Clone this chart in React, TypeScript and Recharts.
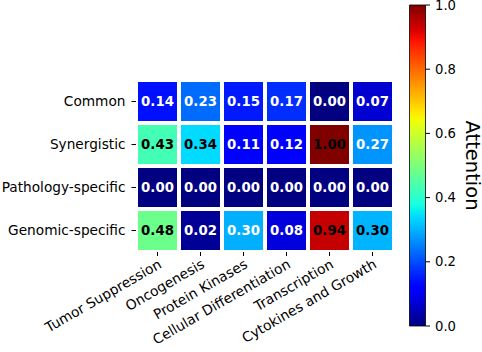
import { ScatterChart, Scatter, XAxis, YAxis, BarChart, Bar } from 'recharts'

const RIJEN = ['Common', 'Synergistic', 'Pathology-specific', 'Genomic-specific']
const KOLOMMEN = [
  'Tumor Suppression',
  'Oncogenesis',
  'Protein Kinases',
  'Cellular Differentiation',
  'Transcription',
  'Cytokines and Growth',
]
const COMMON = [0.14, 0.23, 0.15, 0.17, 0.0, 0.07]
const SYNERGISTIC = [0.43, 0.34, 0.11, 0.12, 1.0, 0.27]
const PATHOLOGY = [0.0, 0.0, 0.0, 0.0, 0.0, 0.0]
const GENOMIC = [0.48, 0.02, 0.298, 0.08, 0.94, 0.302]
const CB_TICKS = [0, 0.2, 0.4, 0.6, 0.8, 1.0]

const FONT = '"DejaVu Sans", sans-serif'
const W = 482
const H = 352
const MARGIN = { top: 80, right: 88, bottom: 0, left: 0 }
const Y_AXIS_W = 136
const X_AXIS_H = 100
const PLOT_W = W - MARGIN.right - Y_AXIS_W
const PLOT_H = H - MARGIN.top - X_AXIS_H
const CEL_W = PLOT_W / KOLOMMEN.length
const CEL_H = PLOT_H / RIJEN.length
const GAP = 4

// matplotlib 'jet' colormap
type Pt = [number, number]
const JET_R: Pt[] = [[0, 0], [0.35, 0], [0.66, 1], [0.89, 1], [1, 0.5]]
const JET_G: Pt[] = [[0, 0], [0.125, 0], [0.375, 1], [0.64, 1], [0.91, 0], [1, 0]]
const JET_B: Pt[] = [[0, 0.5], [0.11, 1], [0.34, 1], [0.65, 0], [1, 0]]

function lin(pts: Pt[], t: number): number {
  for (let i = 1; i < pts.length; i++) {
    if (t <= pts[i][0]) {
      const [x0, y0] = pts[i - 1]
      const [x1, y1] = pts[i]
      return y0 + ((t - x0) / (x1 - x0)) * (y1 - y0)
    }
  }
  return pts[pts.length - 1][1]
}

function jet(t: number): string {
  const c = (v: number) => Math.round(Math.max(0, Math.min(1, v)) * 255)
  return `rgb(${c(lin(JET_R, t))},${c(lin(JET_G, t))},${c(lin(JET_B, t))})`
}

const matrix = [COMMON, SYNERGISTIC, PATHOLOGY, GENOMIC]
const cellen = matrix.flatMap((rij, ri) => rij.map((v, ci) => ({ x: ci, y: ri, v })))

// offsets oplopend, bovenaan (offset 0) hoort waarde 1
const gradStops = Array.from({ length: 51 }, (_, i) => i / 50)

function Cel(props: any) {
  const { cx, cy, payload } = props
  const v = payload.v as number
  return (
    <g>
      <rect
        x={cx - CEL_W / 2 + GAP / 2}
        y={cy - CEL_H / 2 + GAP / 2}
        width={CEL_W - GAP}
        height={CEL_H - GAP}
        fill={jet(v)}
      />
      <text
        x={cx}
        y={cy}
        textAnchor="middle"
        dominantBaseline="central"
        fontFamily={FONT}
        fontWeight="bold"
        fontSize={13.3}
        fill={v > 0.3 ? '#000' : '#fff'}
      >
        {v.toFixed(2)}
      </text>
    </g>
  )
}

function XTick(props: any) {
  const { x, y, payload } = props
  return (
    <g transform={`translate(${x},${y})`}>
      <text
        x={5}
        y={9}
        textAnchor="end"
        transform="rotate(-30 5 9)"
        fontFamily={FONT}
        fontSize={13.8}
        fill="#000"
      >
        {KOLOMMEN[payload.value]}
      </text>
    </g>
  )
}

export default function App() {
  return (
    <div style={{ position: 'absolute', left: 0, top: 0, width: W, height: H, background: '#fff' }}>
      <div style={{ position: 'absolute', left: 0, top: 0 }}>
        <ScatterChart width={W} height={H} margin={MARGIN}>
          <XAxis
            type="number"
            dataKey="x"
            domain={[-0.5, KOLOMMEN.length - 0.5]}
            ticks={KOLOMMEN.map((_, i) => i)}
            interval={0}
            axisLine={false}
            tickLine={{ stroke: '#000' }}
            tickSize={4}
            height={X_AXIS_H}
            tick={<XTick />}
          />
          <YAxis
            type="number"
            dataKey="y"
            domain={[-0.5, RIJEN.length - 0.5]}
            ticks={RIJEN.map((_, i) => i)}
            interval={0}
            reversed
            width={Y_AXIS_W}
            axisLine={false}
            tickLine={{ stroke: '#000' }}
            tickSize={4.5}
            tickMargin={6}
            tickFormatter={(i) => RIJEN[i as number]}
            tick={{ fill: '#000', fontSize: 13.7, fontFamily: FONT }}
          />
          <Scatter data={cellen} shape={<Cel />} isAnimationActive={false} />
        </ScatterChart>
      </div>
      <div style={{ position: 'absolute', left: 0, top: 0 }}>
        <BarChart
          width={W}
          height={H}
          data={[{ naam: 'cb', v: 1 }]}
          margin={{ top: 5, bottom: 26, left: 409.5, right: 0 }}
          barCategoryGap={0}
        >
          <defs>
            <linearGradient id="jetGrad" x1="0" y1="0" x2="0" y2="1">
              {gradStops.map((o) => (
                <stop key={o} offset={o} stopColor={jet(1 - o)} />
              ))}
            </linearGradient>
          </defs>
          <XAxis dataKey="naam" hide />
          <YAxis
            orientation="right"
            domain={[0, 1]}
            ticks={CB_TICKS}
            interval={0}
            width={56.5}
            axisLine={false}
            tickLine={{ stroke: '#000' }}
            tickSize={4.5}
            tickMargin={5}
            tickFormatter={(v) => (v as number).toFixed(1)}
            tick={{ fill: '#000', fontSize: 13.2, fontFamily: FONT }}
            label={{
              content: ({ viewBox }: any) => {
                const cx = viewBox.x + 46.5
                const cy = viewBox.y + viewBox.height / 2
                return (
                  <text
                    x={cx}
                    y={cy}
                    textAnchor="middle"
                    dominantBaseline="central"
                    transform={`rotate(90 ${cx} ${cy})`}
                    fontFamily={FONT}
                    fontSize={19.5}
                    fill="#000"
                  >
                    Attention
                  </text>
                )
              },
            }}
          />
          <Bar dataKey="v" fill="url(#jetGrad)" stroke="#000" strokeWidth={0.8} isAnimationActive={false} />
        </BarChart>
      </div>
    </div>
  )
}
